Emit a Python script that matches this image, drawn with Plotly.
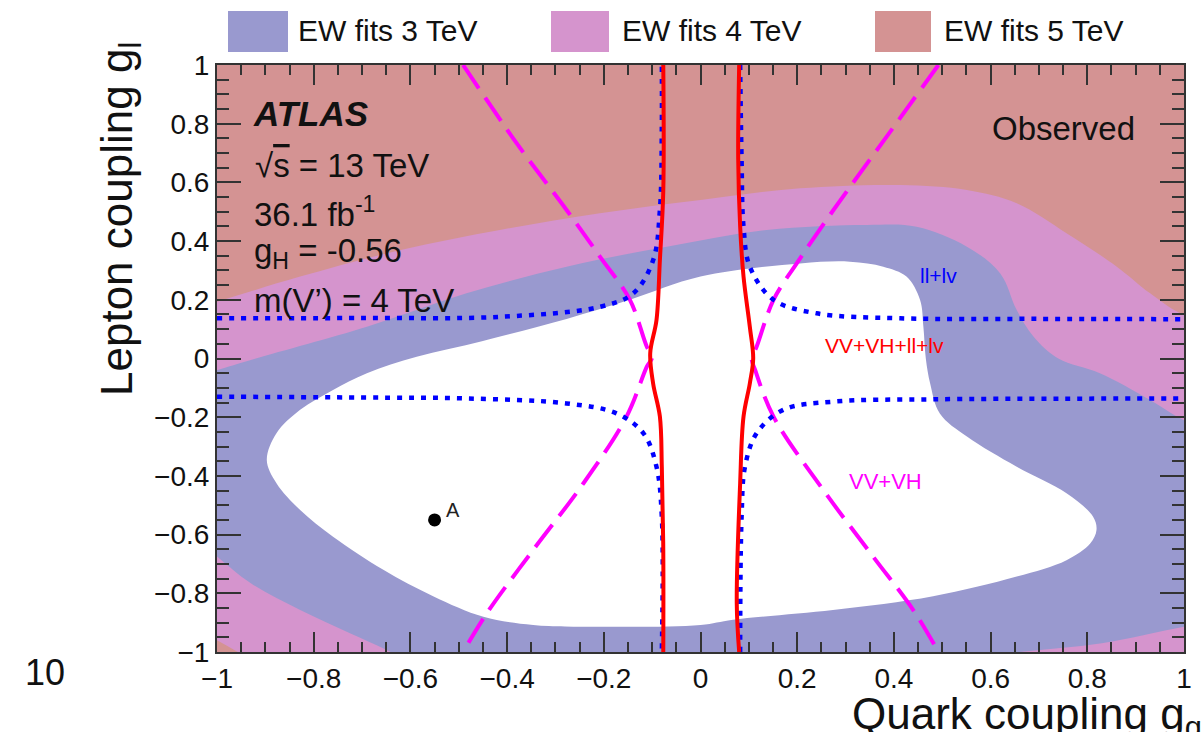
import plotly.graph_objects as go

# ---------------- data (quark coupling g_q, lepton coupling g_l) ----------------
# EW fits 5 TeV: whole plane
ew5_q = [-1.0, 1.0, 1.0, -1.0]
ew5_l = [-1.0, -1.0, 1.0, 1.0]

# EW fits 4 TeV allowed band (upper boundary, then closed round the lower part)
ew4_q = [-1.15, -1.0, -0.828, -0.62, -0.415, -0.208, 0.0, 0.206, 0.413, 0.551, 0.654,
         0.757, 0.861, 0.93, 0.992, 1.15, 1.15, 0.1, -0.914, -0.957, -1.0, -1.043, -1.15]
ew4_l = [0.118, 0.193, 0.279, 0.37, 0.438, 0.495, 0.54, 0.58, 0.591, 0.574, 0.529,
         0.427, 0.313, 0.222, 0.154, 0.06, -1.15, -1.15, -1.04, -1.0, -0.96, -0.92, -0.92]

# EW fits 3 TeV allowed band
ew3_q = [-1.15, -1.0, -0.93, -0.69, -0.484, -0.277, -0.07, 0.137, 0.344, 0.447, 0.551,
         0.62, 0.654, 0.689, 0.74, 0.826, 0.93, 1.0, 1.15, 1.15, 1.0, 0.83, 0.66, 0.5,
         -0.58, -0.649, -0.725, -0.828, -0.93, -1.0, -1.1]
ew3_l = [-0.115, -0.04, -0.005, 0.108, 0.222, 0.313, 0.381, 0.438, 0.455, 0.449, 0.381,
         0.29, 0.165, 0.074, 0.0, -0.05, -0.141, -0.21, -0.3, -0.87, -0.914, -0.97, -1.0, -1.03,
         -1.05, -0.993, -0.936, -0.857, -0.766, -0.675, -0.54]

# region allowed by all EW fits
white_q = [0.0, -0.208, -0.346, -0.449, -0.553, -0.656, -0.76, -0.828, -0.877, -0.897,
           -0.877, -0.828, -0.76, -0.69, -0.587, -0.45, -0.277, -0.146, 0.0, 0.206, 0.309,
           0.378, 0.426, 0.454, 0.461, 0.466, 0.475, 0.495, 0.551, 0.654, 0.757, 0.812,
           0.819, 0.806, 0.757, 0.654, 0.481, 0.274, 0.067, 0.0]
white_l = [-0.908, -0.914, -0.908, -0.88, -0.81, -0.72, -0.607, -0.516, -0.425, -0.346,
           -0.255, -0.175, -0.107, -0.05, 0.006, 0.06, 0.135, 0.2, 0.279, 0.324, 0.33,
           0.313, 0.279, 0.2, 0.108, 0.0, -0.085, -0.187, -0.266, -0.369, -0.459, -0.539,
           -0.584, -0.63, -0.687, -0.743, -0.81, -0.857, -0.89, -0.908]

# VV+VH observed limit contours
vv_left_q = [-0.491, -0.38, -0.277, -0.208, -0.146, -0.111, -0.100, -0.111, -0.153, -0.242, -0.346, -0.442, -0.491]
vv_left_l = [1.0, 0.733, 0.506, 0.347, 0.2, 0.04, 0.005, -0.028, -0.198, -0.425, -0.652, -0.868, -1.0]
vv_right_q = [0.492, 0.385, 0.275, 0.199, 0.151, 0.116, 0.106, 0.113, 0.151, 0.254, 0.357, 0.44, 0.492]
vv_right_l = [1.0, 0.756, 0.506, 0.324, 0.2, 0.04, 0.0, -0.039, -0.198, -0.448, -0.675, -0.857, -1.0]

# ll+lv observed limit contours
ll_ul_q = [-1.0, -0.7, -0.415, -0.208, -0.139, -0.098, -0.084, -0.08, -0.08]
ll_ul_l = [0.137, 0.138, 0.142, 0.176, 0.222, 0.335, 0.506, 0.79, 1.0]
ll_ur_q = [0.082, 0.085, 0.089, 0.102, 0.151, 0.24, 0.413, 0.7, 1.0]
ll_ur_l = [1.0, 0.676, 0.449, 0.313, 0.2, 0.154, 0.137, 0.135, 0.134]
ll_ll_q = [-1.0, -0.7, -0.484, -0.277, -0.174, -0.118, -0.091, -0.08, -0.08]
ll_ll_l = [-0.13, -0.133, -0.136, -0.153, -0.187, -0.255, -0.369, -0.539, -1.0]
ll_lr_q = [0.082, 0.085, 0.092, 0.116, 0.171, 0.275, 0.481, 0.75, 1.0]
ll_lr_l = [-1.0, -0.539, -0.369, -0.255, -0.175, -0.147, -0.139, -0.137, -0.136]

# VV+VH+ll+lv combined observed limit contours
comb_left_q = [-0.077, -0.077, -0.084, -0.091, -0.104, -0.098, -0.084, -0.08, -0.077, -0.077]
comb_left_l = [1.0, 0.57, 0.336, 0.131, 0.018, -0.085, -0.198, -0.369, -0.65, -1.0]
comb_right_q = [0.080, 0.078, 0.082, 0.089, 0.102, 0.109, 0.102, 0.089, 0.082, 0.075, 0.080]
comb_right_l = [1.0, 0.68, 0.45, 0.279, 0.108, 0.0, -0.085, -0.198, -0.425, -0.834, -1.0]

# benchmark point A
point_a_q = [-0.55]
point_a_l = [-0.55]

tick_vals = [-1.0, -0.8, -0.6, -0.4, -0.2, 0.0, 0.2, 0.4, 0.6, 0.8, 1.0]
tick_text = ["\u22121", "\u22120.8", "\u22120.6", "\u22120.4", "\u22120.2", "0",
             "0.2", "0.4", "0.6", "0.8", "1"]

legend_names = ["EW fits 3 TeV", "EW fits 4 TeV", "EW fits 5 TeV"]

# ---------------- style ----------------
FONT = "Liberation Sans, Arial, Helvetica, sans-serif"
C3 = "rgb(153,153,207)"
C4 = "rgb(213,148,205)"
C5 = "rgb(212,147,147)"
TXT = "#111111"

W, H = 1203, 732
ML, MR, MT, MB = 217, 19, 65, 80
PW, PH = W - ML - MR, H - MT - MB


def fx(px):
    return (px - ML) / PW


def fy(py):
    return (H - MB - py) / PH


fig = go.Figure()


def area(q, l, color, smooth=True):
    fig.add_trace(go.Scatter(
        x=q, y=l, mode="lines", fill="toself", fillcolor=color,
        line=dict(width=0, color=color, shape="spline" if smooth else "linear"),
        hoverinfo="skip", showlegend=False))


area(ew5_q, ew5_l, C5, smooth=False)
area(ew4_q, ew4_l, C4)
area(ew3_q, ew3_l, C3)
area(white_q, white_l, "white")


def curve(q, l, color, dash, width=4):
    fig.add_trace(go.Scatter(
        x=q, y=l, mode="lines",
        line=dict(color=color, width=width, dash=dash, shape="spline"),
        hoverinfo="skip", showlegend=False))


curve(vv_left_q, vv_left_l, "#FF00FF", "28px,11px")
curve(vv_right_q, vv_right_l, "#FF00FF", "28px,11px")
for q, l in [(ll_ul_q, ll_ul_l), (ll_ur_q, ll_ur_l), (ll_ll_q, ll_ll_l), (ll_lr_q, ll_lr_l)]:
    curve(q, l, "#0000FF", "5px,7px", width=4.5)
curve(comb_left_q, comb_left_l, "#FF0000", "solid", width=4)
curve(comb_right_q, comb_right_l, "#FF0000", "solid", width=4)

fig.add_trace(go.Scatter(x=point_a_q, y=point_a_l, mode="markers",
                         marker=dict(color="black", size=13), hoverinfo="skip",
                         showlegend=False))

axis_common = dict(
    range=[-1, 1], tickvals=tick_vals, ticktext=tick_text,
    showgrid=False, zeroline=False, showline=True, linecolor="#333333", linewidth=2,
    mirror="allticks", ticks="inside", tickwidth=2, tickcolor="#333333",
    tickfont=dict(family=FONT, size=28, color=TXT),
)
fig.update_xaxes(**axis_common, ticklen=20,
                 minor=dict(dtick=0.05, ticks="inside", ticklen=10, tickwidth=2, tickcolor="#333333"))
fig.update_yaxes(**axis_common, ticklen=24,
                 minor=dict(dtick=0.05, ticks="inside", ticklen=12, tickwidth=2, tickcolor="#333333"))

ann = []


def text(x, y, s, size, color=TXT, xref="x", yref="y", xanchor="left", **kw):
    ann.append(dict(x=x, y=y, xref=xref, yref=yref, text=s, showarrow=False,
                    xanchor=xanchor, yanchor="middle",
                    font=dict(family=FONT, size=size, color=color), **kw))


# in-frame labels
text(-0.93, 0.836, "<b><i>ATLAS</i></b>", 35)
text(-0.9255, 0.659, "\u221a<span style='text-decoration:overline'>s</span> = 13 TeV", 33)
text(-0.928, 0.50, "36.1 fb<sup>-1</sup>", 33)
text(-0.928, 0.36, "g<sub>H</sub> = -0.56", 33)
text(-0.928, 0.196, "m(V\u2019) = 4 TeV", 33)
text(0.599, 0.785, "Observed", 33)
text(0.450, 0.284, "ll+lv", 21, color="#0000FF")
text(0.253, 0.043, "VV+VH+ll+lv", 21, color="#FF0000")
text(0.303, -0.42, "VV+VH", 22, color="#FF00FF")
text(-0.53, -0.515, "A", 20, color="#222222")

# axis titles
text(fx(120), fy(219), "Lepton coupling g<sub>l</sub>", 44, xref="paper", yref="paper",
     xanchor="center", textangle=-90)
text(fx(850), fy(717), "Quark coupling g<sub>q</sub>", 44, xref="paper", yref="paper")
text(fx(23), fy(672), "10", 36, xref="paper", yref="paper")

# legend
shapes = []
boxes = [(228, 288, 296), (551, 609, 620), (875, 931, 942)]
for (x0, x1, tx), col, name in zip(boxes, [C3, C4, C5], legend_names):
    shapes.append(dict(type="rect", xref="paper", yref="paper",
                       x0=fx(x0), x1=fx(x1), y0=fy(52), y1=fy(11),
                       fillcolor=col, line=dict(width=0), layer="above"))
    text(fx(tx), fy(31), name, 30, xref="paper", yref="paper")

fig.update_layout(
    width=W, height=H, autosize=False,
    margin=dict(l=ML, r=MR, t=MT, b=MB, pad=0),
    paper_bgcolor="white", plot_bgcolor="white",
    showlegend=False, annotations=ann, shapes=shapes,
)

fig.write_html("out.html")
